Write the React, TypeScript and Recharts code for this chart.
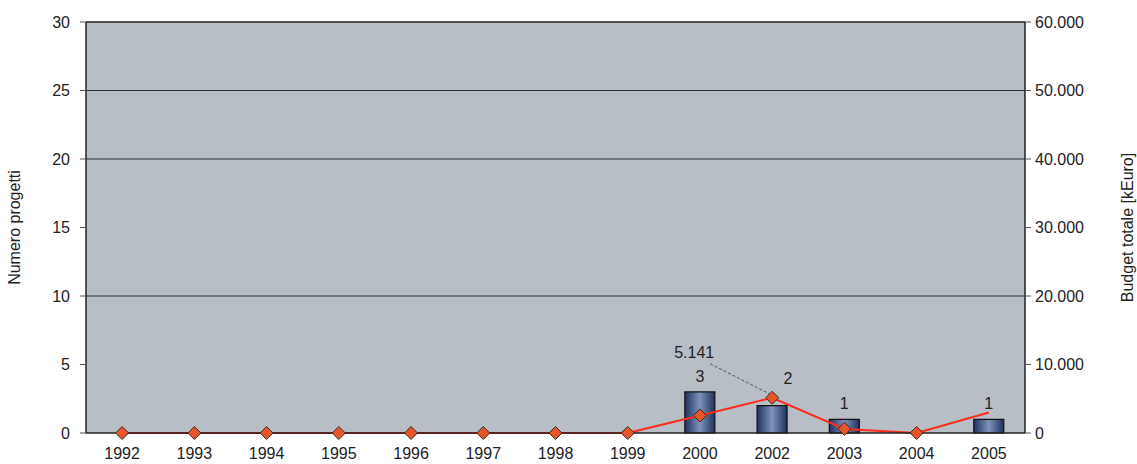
import React from 'react'
import {
  Bar,
  CartesianGrid,
  ComposedChart,
  LabelList,
  Line,
  ReferenceLine,
  XAxis,
  YAxis,
} from 'recharts'

document.body.style.margin = '0'

const years = ['1992', '1993', '1994', '1995', '1996', '1997', '1998', '1999', '2000', '2002', '2003', '2004', '2005']
const progetti = [0, 0, 0, 0, 0, 0, 0, 0, 3, 2, 1, 0, 1]
const budget = [0, 0, 0, 0, 0, 0, 0, 0, 2560, 5141, 600, 0, 3000]
const leftTicks = [0, 5, 10, 15, 20, 25, 30]
const rightTicks = [0, 10000, 20000, 30000, 40000, 50000, 60000]

const data = years.map((y, i) => ({ year: y, progetti: progetti[i], budget: budget[i] }))

const textStyle = { fontFamily: 'Liberation Sans, Arial, sans-serif', fontSize: 16, fill: '#222' }

const Diamond = (props: any) => {
  const { cx, cy, index } = props
  if (index === years.length - 1 || cx == null) return <g key={index} />
  const r = 6.5
  return (
    <path
      key={index}
      d={`M${cx},${cy - r}L${cx + r},${cy}L${cx},${cy + r}L${cx - r},${cy}Z`}
      fill='#e8552b'
      stroke='#3a2a20'
      strokeWidth={1}
    />
  )
}

// label gets the year, the count is looked up from the arrays
const BarLabel = (props: any) => {
  const { x, y, width, value } = props
  const i = years.indexOf(String(value))
  const n = progetti[i]
  if (!n) return null
  // 2002 label sits up and to the right, clear of the line
  const shifted = value === '2002'
  const cx = x + width / 2 + (shifted ? 16 : 0)
  const ty = shifted ? y - 22 : y - 10
  return (
    <text x={cx} y={ty} textAnchor='middle' style={textStyle}>
      {n}
    </text>
  )
}

const BudgetLabel = (props: any) => {
  const { x, y, value } = props
  if (value !== 5141) return null
  return (
    <g>
      <line x1={x - 62} y1={y - 34} x2={x - 3} y2={y - 4} stroke='#555' strokeWidth={1} strokeDasharray='3 2' />
      <text x={x - 78} y={y - 40} textAnchor='middle' style={textStyle}>
        5.141
      </text>
    </g>
  )
}

const App: React.FC = () => {
  return (
    <ComposedChart
      width={1137}
      height={464}
      data={data}
      margin={{ top: 22, right: 0, left: 0, bottom: 0 }}
      barCategoryGap={0}
    >
      <defs>
        <linearGradient id='barGrad' x1='0' y1='0' x2='1' y2='0'>
          <stop offset='0%' stopColor='#1f3160' />
          <stop offset='50%' stopColor='#7d93b8' />
          <stop offset='100%' stopColor='#1f3160' />
        </linearGradient>
      </defs>
      <CartesianGrid
        yAxisId='left'
        vertical={false}
        horizontalValues={[10, 20, 25]}
        stroke='#2b2f35'
        strokeWidth={1}
        fill='#b7bec6'
        fillOpacity={1}
      />
      <XAxis
        dataKey='year'
        height={31}
        tickLine={false}
        axisLine={{ stroke: '#222', strokeWidth: 1.5 }}
        tick={{ ...textStyle, dy: 7 }}
        interval={0}
      />
      <YAxis
        yAxisId='left'
        orientation='left'
        width={86}
        domain={[0, 30]}
        ticks={leftTicks}
        tickSize={6}
        tickMargin={10}
        tickLine={{ stroke: '#555' }}
        axisLine={{ stroke: '#222', strokeWidth: 1.5 }}
        tick={textStyle}
        label={{
          value: 'Numero progetti',
          angle: -90,
          position: 'insideLeft',
          offset: 14,
          style: { ...textStyle, textAnchor: 'middle' },
        }}
      />
      <YAxis
        yAxisId='right'
        orientation='right'
        width={112}
        domain={[0, 60000]}
        ticks={rightTicks}
        tickFormatter={(v: number) => (v === 0 ? '0' : `${v / 1000}.000`)}
        tickSize={6}
        tickMargin={4}
        tickLine={{ stroke: '#555' }}
        axisLine={{ stroke: '#222', strokeWidth: 1.5 }}
        tick={textStyle}
        label={{
          value: 'Budget totale [kEuro]',
          angle: -90,
          position: 'insideRight',
          offset: 10,
          style: { ...textStyle, textAnchor: 'middle' },
        }}
      />
      <ReferenceLine yAxisId='left' y={30} stroke='#222' strokeWidth={1.5} />
      <Bar
        yAxisId='left'
        dataKey='progetti'
        barSize={30}
        fill='url(#barGrad)'
        stroke='#111'
        strokeWidth={1.2}
        isAnimationActive={false}
      >
        <LabelList dataKey='year' content={<BarLabel />} />
      </Bar>
      <Line
        yAxisId='right'
        dataKey='budget'
        type='linear'
        stroke='#ff2a1a'
        strokeWidth={2}
        dot={<Diamond />}
        activeDot={false}
        isAnimationActive={false}
      >
        <LabelList dataKey='budget' content={<BudgetLabel />} />
      </Line>
    </ComposedChart>
  )
}

export default App
